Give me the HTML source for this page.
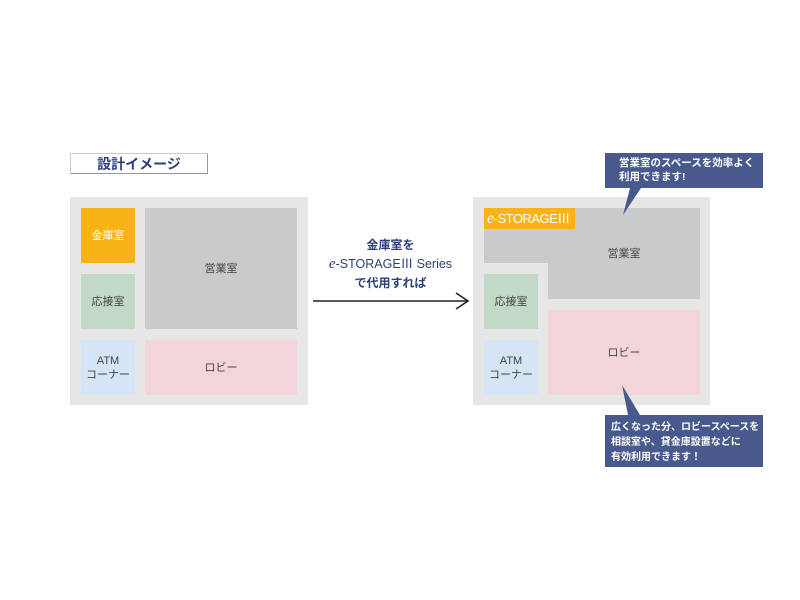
<!DOCTYPE html>
<html><head><meta charset="utf-8"><style>
body{margin:0;width:800px;height:600px;background:#fff;position:relative;overflow:hidden;font-family:"Liberation Sans","Noto Sans CJK JP",sans-serif}
.a{position:absolute;display:flex;align-items:center;justify-content:center;text-align:center;font-size:11px;color:#444;line-height:14px}
.t{position:absolute;color:#fff;font-size:10.5px;font-weight:bold;line-height:14px}
</style></head><body>
<div class="a" style="left:70px;top:153px;width:136px;height:19px;border:1px solid #999;border-top-color:#ccc;border-left-color:#ccc;color:#2e3f78;font-weight:bold;font-size:14px">設計イメージ</div>
<div class="a" style="left:70px;top:197px;width:238px;height:208px;background:#e6e6e6"></div>
<div class="a" style="left:81px;top:208px;width:54px;height:55px;background:#f9b316;color:#fff">金庫室</div>
<div class="a" style="left:145px;top:208px;width:152px;height:121px;background:#c9cacc">営業室</div>
<div class="a" style="left:81px;top:274px;width:54px;height:55px;background:#c3d9c7">応接室</div>
<div class="a" style="left:81px;top:340px;width:54px;height:55px;background:#d5e5f5">ATM<br>コーナー</div>
<div class="a" style="left:145px;top:340px;width:152px;height:55px;background:#f2d5d9">ロビー</div>

<div class="a" style="left:318px;top:236px;width:145px;height:56px;color:#2e3f78;font-weight:bold;font-size:12px;line-height:19px;flex-direction:column">金庫室を<span style="font-weight:normal;font-size:12.5px"><i style="font-family:'Liberation Serif',serif;font-size:15px">e</i>-STORAGEⅢ Series</span>で代用すれば</div>
<svg style="position:absolute;left:0;top:0" width="800" height="600">
<line x1="313" y1="301" x2="467" y2="301" stroke="#222" stroke-width="1.6"/>
<polyline points="456,293 468,301 456,309" fill="none" stroke="#222" stroke-width="1.6"/>
</svg>

<div class="a" style="left:473px;top:197px;width:237px;height:208px;background:#e6e6e6"></div>
<div class="a" style="left:484px;top:208px;width:216px;height:55px;background:#c9cacc"></div>
<div class="a" style="left:548px;top:208px;width:152px;height:91px;background:#c9cacc;padding-top:0">営業室</div>
<div class="a" style="left:484px;top:208px;width:91px;height:21px;background:#f9b316;color:#fff;font-size:13px;justify-content:flex-start;padding-left:3px;box-sizing:border-box;letter-spacing:-0.5px"><i style="font-family:'Liberation Serif',serif;font-size:16px">e</i>-STORAGEⅢ</div>
<div class="a" style="left:484px;top:274px;width:54px;height:55px;background:#c3d9c7">応接室</div>
<div class="a" style="left:484px;top:340px;width:54px;height:55px;background:#d5e5f5">ATM<br>コーナー</div>
<div class="a" style="left:548px;top:310px;width:152px;height:85px;background:#f2d5d9">ロビー</div>
<svg style="position:absolute;left:0;top:0" width="800" height="600">
<polygon points="605,153 763,153 763,188 641,188 623,215 630,188 605,188" fill="#48598e"/>
<polygon points="605,415 763,415 763,467 605,467 605,415 640,415 622,385 628,415" fill="#48598e"/>
</svg>
<div class="t" style="left:619px;top:156px">営業室のスペースを効率よく<br>利用できます!</div>
<div class="t" style="left:611px;top:420px;line-height:15px;font-size:10px">広くなった分、ロビースペースを<br>相談室や、貸金庫設置などに<br>有効利用できます！</div>
</body></html>
